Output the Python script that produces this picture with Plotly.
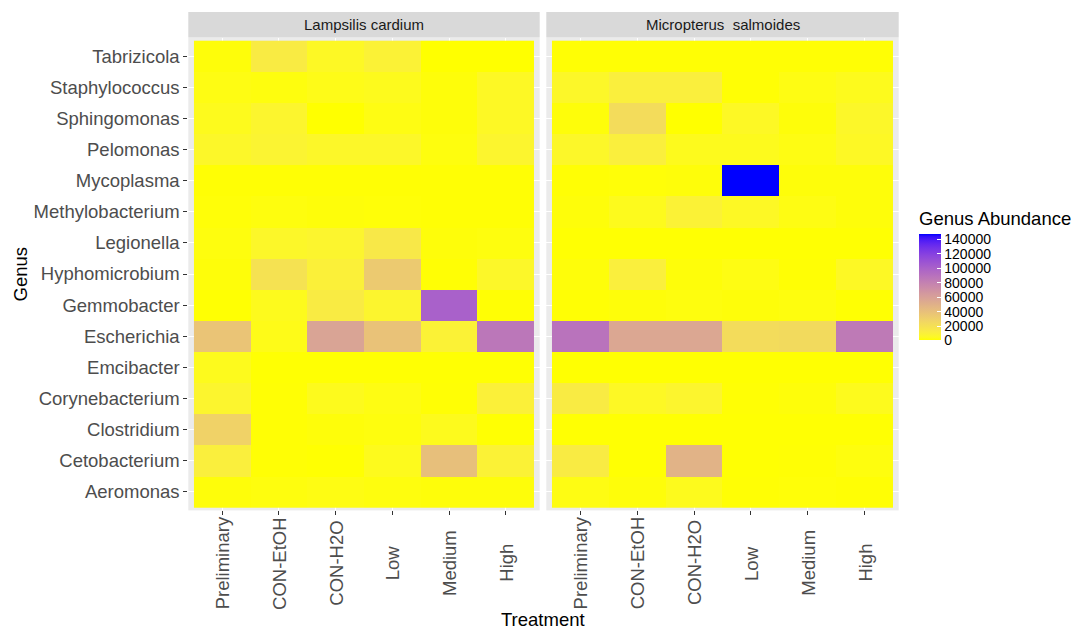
import numpy as np
import plotly.graph_objects as go

# ---- data -------------------------------------------------------------
TREATMENTS = ["Preliminary", "CON-EtOH", "CON-H2O", "Low", "Medium", "High"]
GENERA = ["Aeromonas", "Cetobacterium", "Clostridium", "Corynebacterium",
          "Emcibacter", "Escherichia", "Gemmobacter", "Hyphomicrobium",
          "Legionella", "Methylobacterium", "Mycoplasma", "Pelomonas",
          "Sphingomonas", "Staphylococcus", "Tabrizicola"]
HOSTS = ["Lampsilis cardium", "Micropterus  salmoides"]

# abundance per genus (rows, same order as GENERA) x treatment (columns)
lampsilis = [
    [1000, 1500, 2000, 1500, 1000, 1000],       # Aeromonas
    [10000, 500, 200, 3000, 40000, 8000],       # Cetobacterium
    [28000, 500, 1000, 1500, 3000, 300],        # Clostridium
    [6000, 500, 3000, 2000, 500, 9000],         # Corynebacterium
    [3000, 300, 300, 300, 300, 300],            # Emcibacter
    [37000, 2500, 57000, 38000, 8000, 86000],   # Escherichia
    [300, 3000, 12000, 6000, 100000, 500],      # Gemmobacter
    [1000, 18000, 9000, 33000, 500, 5000],      # Hyphomicrobium
    [1500, 5000, 6000, 14000, 1000, 1500],      # Legionella
    [800, 1500, 1000, 800, 500, 500],           # Methylobacterium
    [500, 500, 500, 500, 500, 500],             # Mycoplasma
    [5000, 7000, 5000, 5000, 1500, 6000],       # Pelomonas
    [3000, 6000, 0, 2000, 1000, 4000],          # Sphingomonas
    [2000, 1500, 2500, 3000, 1000, 4000],       # Staphylococcus
    [1000, 12000, 4000, 8000, 0, 0],            # Tabrizicola
]
micropterus = [
    [2000, 1000, 3000, 500, 800, 500],          # Aeromonas
    [12000, 300, 48000, 300, 500, 1500],        # Cetobacterium
    [300, 300, 300, 300, 300, 300],             # Clostridium
    [12000, 4000, 6000, 500, 1000, 3000],       # Corynebacterium
    [200, 200, 200, 200, 200, 200],             # Emcibacter
    [88000, 55000, 55000, 22000, 23000, 84000], # Escherichia
    [500, 1000, 1500, 1000, 1500, 300],         # Gemmobacter
    [1000, 10000, 1000, 2000, 500, 4000],       # Hyphomicrobium
    [300, 300, 300, 300, 300, 300],             # Legionella
    [1000, 3000, 8000, 4000, 2000, 1000],       # Methylobacterium
    [500, 800, 1000, 147000, 1000, 1000],       # Mycoplasma
    [5000, 10000, 3000, 3000, 2000, 4000],      # Pelomonas
    [1000, 22000, 0, 4000, 1000, 5000],         # Sphingomonas
    [5000, 10000, 10000, 500, 2000, 3000],      # Staphylococcus
    [500, 500, 500, 500, 500, 500],             # Tabrizicola
]
COLORBAR_TICKS = [0, 20000, 40000, 60000, 80000, 100000, 120000, 140000]

# ---- yellow -> blue gradient interpolated in CIE Lab ------------------
def _srgb_to_lab(rgb):
    c = np.array(rgb, dtype=float) / 255.0
    c = np.where(c <= 0.04045, c / 12.92, ((c + 0.055) / 1.055) ** 2.4)
    m = np.array([[0.4124564, 0.3575761, 0.1804375],
                  [0.2126729, 0.7151522, 0.0721750],
                  [0.0193339, 0.1191920, 0.9503041]])
    xyz = m @ c / np.array([0.95047, 1.0, 1.08883])
    f = np.where(xyz > 216 / 24389, np.cbrt(xyz), (24389 / 27 * xyz + 16) / 116)
    return np.array([116 * f[1] - 16, 500 * (f[0] - f[1]), 200 * (f[1] - f[2])])


def _lab_to_srgb(lab):
    L, a, b = lab
    fy = (L + 16) / 116
    fx = fy + a / 500
    fz = fy - b / 200
    f = np.array([fx, fy, fz])
    xyz = np.where(f ** 3 > 216 / 24389, f ** 3, (116 * f - 16) / (24389 / 27))
    xyz = xyz * np.array([0.95047, 1.0, 1.08883])
    minv = np.array([[3.2404542, -1.5371385, -0.4985314],
                     [-0.9692660, 1.8760108, 0.0415560],
                     [0.0556434, -0.2040259, 1.0572252]])
    c = minv @ xyz
    c = np.clip(c, 0, 1)
    c = np.where(c <= 0.0031308, 12.92 * c, 1.055 * c ** (1 / 2.4) - 0.055)
    r, g, b = (np.clip(c, 0, 1) * 255).round().astype(int)
    return f"rgb({r},{g},{b})"


lab_lo = _srgb_to_lab((255, 255, 0))
lab_hi = _srgb_to_lab((0, 0, 255))
COLORSCALE = [[t, _lab_to_srgb(lab_lo + t * (lab_hi - lab_lo))]
              for t in np.linspace(0, 1, 41)]

# ---- geometry (pixels) -------------------------------------------------
W, H = 1076, 629
FONT = "Liberation Sans, Arial, sans-serif"
left_px = (188.3, 539.7)
right_px = (546.3, 898.7)
panel_top, panel_bot = 37.6, 510.4
strip_top = 12.0
bar_top, bar_bot, cb_title_h = 233.3, 340.7, 25.0


def px_x(v):
    return v / W


def px_y(v):
    return 1 - v / H


zmax = max(max(max(r) for r in lampsilis), max(max(r) for r in micropterus))

fig = go.Figure()
fig.add_trace(go.Heatmap(z=lampsilis, x=TREATMENTS, y=GENERA, coloraxis="coloraxis",
                         xaxis="x", yaxis="y"))
fig.add_trace(go.Heatmap(z=micropterus, x=TREATMENTS, y=GENERA, coloraxis="coloraxis",
                         xaxis="x2", yaxis="y2"))

xcommon = dict(type="category", categoryorder="array", categoryarray=TREATMENTS,
               range=[-0.6, 5.6], showgrid=True, gridcolor="white", gridwidth=1.1,
               zeroline=False, showline=False, ticks="outside", ticklen=4,
               tickcolor="#333333", tickwidth=1, showticklabels=False)
ycommon = dict(type="category", categoryorder="array", categoryarray=GENERA,
               range=[-0.6, 14.6], showgrid=True, gridcolor="white", gridwidth=1.1,
               zeroline=False, showline=False,
               domain=[px_y(panel_bot), px_y(panel_top)])

fig.update_layout(
    width=W, height=H,
    margin=dict(l=0, r=0, t=0, b=0),
    paper_bgcolor="white", plot_bgcolor="#EBEBEB",
    font=dict(family=FONT, color="#4D4D4D"),
    xaxis=dict(xcommon, domain=[px_x(left_px[0]), px_x(left_px[1])], anchor="y"),
    xaxis2=dict(xcommon, domain=[px_x(right_px[0]), px_x(right_px[1])], anchor="y2"),
    yaxis=dict(ycommon, anchor="x", ticks="outside", ticklen=4, tickcolor="#333333",
               tickwidth=1, tickfont=dict(size=18.5, color="#4D4D4D", family=FONT)),
    yaxis2=dict(ycommon, anchor="x2", matches="y", showticklabels=False, ticks=""),
    coloraxis=dict(
        colorscale=COLORSCALE, cmin=0, cmax=zmax,
        colorbar=dict(
            title=dict(text="Genus Abundance", side="top",
                       font=dict(size=18.5, color="black", family=FONT)),
            x=px_x(919), xanchor="left", xpad=0,
            y=px_y((bar_top - cb_title_h + bar_bot) / 2), yanchor="middle", ypad=0,
            lenmode="pixels", len=bar_bot - bar_top + cb_title_h, thickness=22,
            outlinewidth=0, tickvals=COLORBAR_TICKS,
            ticktext=[str(v) for v in COLORBAR_TICKS],
            ticks="inside", ticklen=4, tickcolor="white", tickwidth=1,
            tickfont=dict(size=14, color="black", family=FONT),
        ),
    ),
    showlegend=False,
)

# facet strips
for (x0, x1), host in zip([left_px, right_px], HOSTS):
    fig.add_shape(type="rect", xref="paper", yref="paper",
                  x0=px_x(x0), x1=px_x(x1), y0=px_y(panel_top), y1=px_y(strip_top),
                  fillcolor="#D9D9D9", line=dict(width=0), layer="below")
    fig.add_annotation(xref="paper", yref="paper", x=px_x((x0 + x1) / 2),
                       y=px_y((strip_top + panel_top) / 2), text=host, showarrow=False,
                       font=dict(size=15, color="#1A1A1A", family=FONT),
                       xanchor="center", yanchor="middle")

# rotated treatment labels, centred under each tick
for xa in ["x", "x2"]:
    for t in TREATMENTS:
        fig.add_annotation(xref=xa, yref="paper", x=t, y=px_y(563), text=t,
                           textangle=-90, showarrow=False,
                           font=dict(size=18.5, color="#4D4D4D", family=FONT),
                           xanchor="center", yanchor="middle")

# axis titles
fig.add_annotation(xref="paper", yref="paper", x=px_x(543), y=px_y(619),
                   text="Treatment", showarrow=False,
                   font=dict(size=18.5, color="black", family=FONT),
                   xanchor="center", yanchor="middle")
fig.add_annotation(xref="paper", yref="paper", x=px_x(19.5), y=px_y(274),
                   text="Genus", textangle=-90, showarrow=False,
                   font=dict(size=18.5, color="black", family=FONT),
                   xanchor="center", yanchor="middle")

fig.write_html("out.html")
